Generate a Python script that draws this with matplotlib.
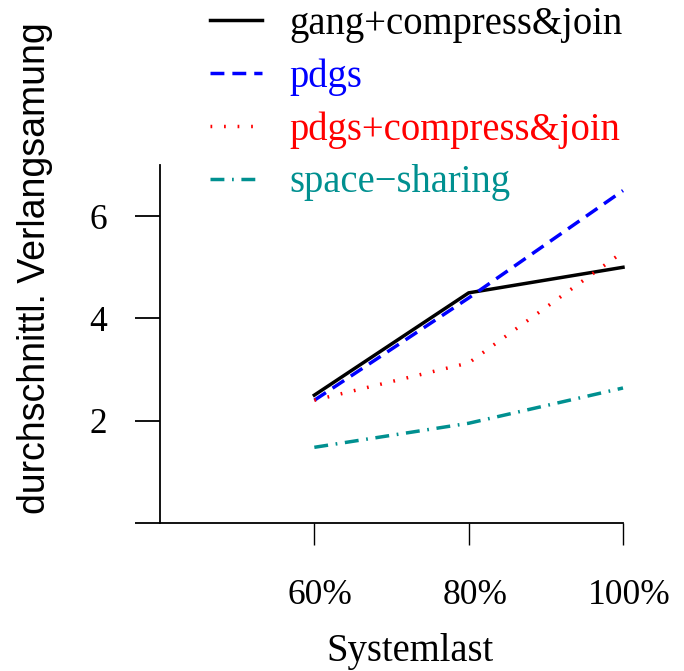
import matplotlib.pyplot as plt
from matplotlib import transforms

last = [60, 80, 100]
gang_cj = [2.5, 4.5, 5.0]
pdgs = [2.4, 4.4, 6.5]
pdgs_cj = [2.4, 3.13, 5.3]
space_sharing = [1.48, 1.95, 2.64]

xticks = [60, 80, 100]
xticklabels = ["60%", "80%", "100%"]
yticks = [0, 2, 4, 6]
yticklabels = ["", "2", "4", "6"]

serif = "Liberation Serif"
sans = "Liberation Sans"
fs = 25.5
fs_big = 27.8

fig = plt.figure(figsize=(6.84, 6.71), dpi=100)
W, H = 684, 671
ax = fig.add_axes([160 / W, (H - 523) / H, (623 - 160) / W, (523 - 165) / H])

lw = 2.5
ax.plot(last, gang_cj, color="black", lw=lw, label="gang+compress&join", clip_on=False)
ax.plot(last, pdgs, color="#0000FF", lw=lw, dashes=(4, 2.3), label="pdgs", clip_on=False)
ax.plot(last, pdgs_cj, color="#FF0000", lw=lw, dashes=(0.5, 3.4), label="pdgs+compress&join",
        clip_on=False)
ax.plot(last, space_sharing, color="#009090", lw=lw, dashes=(4, 2.2, 0.5, 2.2),
        label="space\u2212sharing", clip_on=False)

ax.set_xlim(40, 100)
ax.set_ylim(0, 7)
for s in ["top", "right"]:
    ax.spines[s].set_visible(False)
for s in ["left", "bottom"]:
    ax.spines[s].set_linewidth(1.3)

ax.set_xticks(xticks)
ax.set_xticklabels(xticklabels, fontfamily=serif, fontsize=fs)
ax.set_yticks(yticks)
ax.set_yticklabels(yticklabels, fontfamily=serif, fontsize=fs)
ax.tick_params(axis="x", length=16, width=1.0, pad=24)
ax.tick_params(axis="y", length=18, width=1.3, pad=20)

# R setzt die Beschriftungen etwas nach rechts
off = transforms.ScaledTranslation(6 / 100, 0, fig.dpi_scale_trans)
for t in ax.get_xticklabels():
    t.set_transform(t.get_transform() + off)

fig.text(410 / W, 1 - 652 / H, "Systemlast", fontfamily=serif, fontsize=fs_big,
         ha="center", va="center")
fig.text(35 / W, 1 - 268 / H, "durchschnittl. Verlangsamung", fontfamily=sans,
         fontsize=27, rotation=90, ha="center", va="center")

leg = fig.legend(loc="upper left", bbox_to_anchor=(206 / W, 1 - 2 / H), frameon=False,
                 prop={"family": serif, "size": fs_big}, labelcolor="linecolor",
                 handlelength=1.34, handletextpad=0.72, labelspacing=0.4,
                 borderaxespad=0, borderpad=0.1)

fig.savefig("out.png", dpi=100)
